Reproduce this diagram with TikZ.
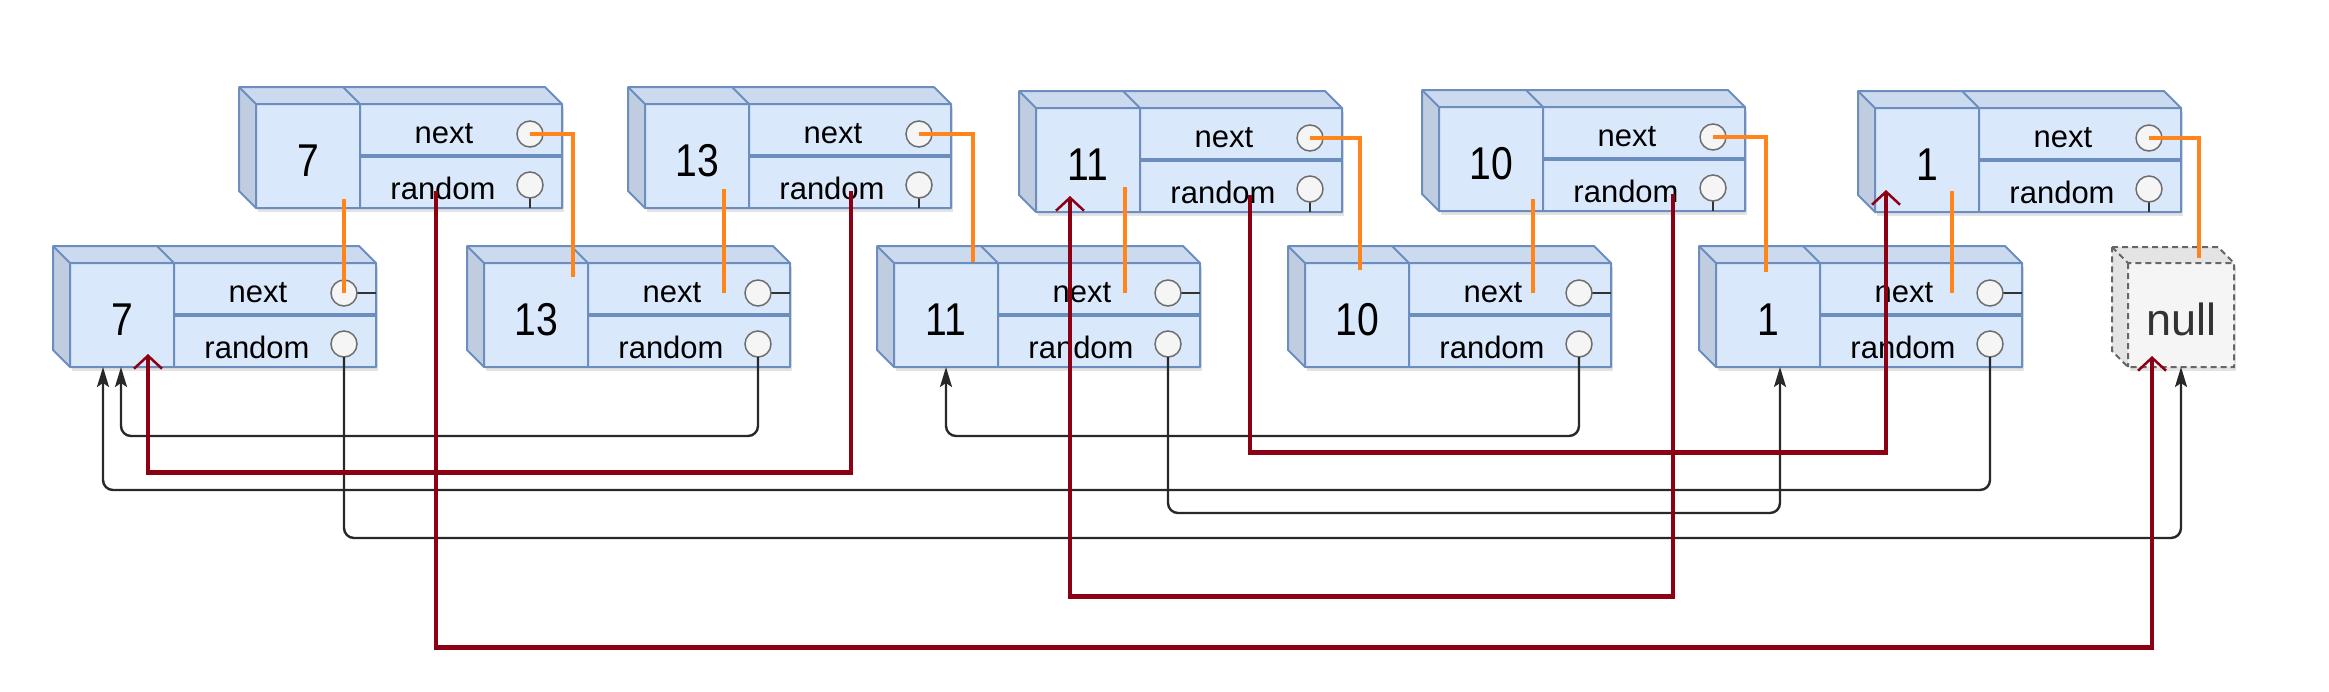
\documentclass[tikz,border=0pt]{standalone}
\usepackage{fontspec}
\setmainfont{Liberation Sans}
\newfontfamily\numfont[FakeStretch=0.85]{Liberation Sans}
\usepackage{xcolor}
\usepackage{tikz}
\usetikzlibrary{arrows.meta,shadows}

\begin{document}
\begin{tikzpicture}[x=1pt,y=-1pt,
  every node/.style={inner sep=0pt, outer sep=0pt},
  frontface/.style={fill={rgb,255:red,218;green,232;blue,252}, drop shadow={shadow xshift=2pt,shadow yshift=-4pt,opacity=0.22}},
  topface/.style={fill={rgb,255:red,203;green,218;blue,238}},
  sideface/.style={fill={rgb,255:red,192;green,205;blue,225}},
  celledge/.style={draw={rgb,255:red,108;green,142;blue,191}, line width=2pt, line join=round},
  port/.style={circle, minimum size=26pt, fill={rgb,255:red,245;green,245;blue,245}, draw={rgb,255:red,110;green,110;blue,110}, line width=1.5pt},
  stub/.style={draw={rgb,255:red,51;green,51;blue,51}, line width=2pt},
  val/.style={font=\numfont\fontsize{46}{46}\selectfont},
  lbl/.style={font=\fontsize{31}{31}\selectfont},
  nullfront/.style={fill={rgb,255:red,245;green,245;blue,245}, drop shadow={shadow xshift=2pt,shadow yshift=-4pt,opacity=0.22}},
  nullface/.style={fill={rgb,255:red,228;green,228;blue,228}},
  nulledge/.style={draw={rgb,255:red,102;green,102;blue,102}, line width=2pt, dash pattern=on 6pt off 4pt},
  nulllbl/.style={font=\fontsize{45}{45}\selectfont, text={rgb,255:red,51;green,51;blue,51}},
  nextlink/.style={draw={rgb,255:red,255;green,133;blue,27}, line width=4.5pt},
  randlink/.style={draw={rgb,255:red,140;green,0;blue,20}, line width=4.5pt, -{Straight Barb[length=13pt,width=28pt,line width=2.5pt]}},
  oldlink/.style={draw={rgb,255:red,40;green,40;blue,40}, line width=2.4pt, rounded corners=10pt, -{Stealth[length=20pt,width=12pt,inset=4pt]}},
  pics/listnode/.style={code={
    \fill[topface] (-17,-17) -- (289,-17) -- (306,0) -- (0,0) -- cycle;
    \fill[sideface] (-17,-17) -- (0,0) -- (0,104) -- (-17,87) -- cycle;
    \fill[frontface] (0,0) rectangle (306,104);
    \draw[celledge] (-17,-17) -- (289,-17) -- (306,0) -- (306,104) -- (0,104) -- (-17,87) -- cycle;
    \draw[celledge] (-17,-17) -- (0,0) -- (306,0) (0,0) -- (0,104);
    \draw[celledge] (87,-17) -- (104,0) -- (104,104);
    \draw[celledge, line width=3.5pt] (104,52) -- (306,52);
    \node[val] (-v) at (52,57) {#1};
    \node[lbl] (-nl) at (188,30) {next};
    \node[lbl] (-rl) at (187,84) {random};
    \draw[stub] (287,30) -- (306,30);
    \draw[stub] (274,94) -- (274,104);
    \node[port] (-nc) at (274,30) {};
    \node[port] (-rc) at (274,81) {};
    \coordinate (-b) at (52,104);
  }},
  pics/nullnode/.style={code={
    \fill[nullface] (-16,-16) -- (90,-16) -- (106,0) -- (0,0) -- cycle;
    \fill[nullface] (-16,-16) -- (0,0) -- (0,104) -- (-16,88) -- cycle;
    \fill[nullfront] (0,0) rectangle (106,104);
    \draw[nulledge] (-16,-16) -- (90,-16) -- (106,0) -- (106,104) -- (0,104) -- (-16,88) -- cycle;
    \draw[nulledge] (-16,-16) -- (0,0) -- (106,0) (0,0) -- (0,104);
    \node[nulllbl] (-v) at (53,56) {null};
    \coordinate (-b) at (53,104);
  }}]
\useasboundingbox (0,0) rectangle (2329,691);

\pic (t7) at (256,104) {listnode=7};
\pic (t13) at (645,104) {listnode=13};
\pic (t11) at (1036,108) {listnode=11};
\pic (t10) at (1439,107) {listnode=10};
\pic (t1) at (1875,108) {listnode=1};

\pic (b7) at (70,263) {listnode=7};
\pic (b13) at (484,263) {listnode=13};
\pic (b11) at (894,263) {listnode=11};
\pic (b10) at (1305,263) {listnode=10};
\pic (b1) at (1716,263) {listnode=1};
\pic (null) at (2128,263) {nullnode};

\coordinate (n1) at (573,277);
\coordinate (n2) at (344,199);
\coordinate (n3) at (973,262);
\coordinate (n4) at (724,189);
\coordinate (n5) at (1360,270);
\coordinate (n6) at (1125,187);
\coordinate (n7) at (1766,272);
\coordinate (n8) at (1533,199);
\coordinate (n9) at (2199,258);
\coordinate (n10) at (1952,191);

\draw[oldlink] (b13-rc.south) -- ++(0,79) -| ([xshift=-1pt]b7-b);
\draw[oldlink] (b1-rc.south) -- ++(0,133) -| ([xshift=-19pt]b7-b);
\draw[oldlink] (b7-rc.south) -- ++(0,181) -| (null-b);
\draw[oldlink] (b11-rc.south) -- ++(0,156) -| ([xshift=12pt]b1-b);
\draw[oldlink] (b10-rc.south) -- ++(0,79) -| (b11-b);

\draw[randlink] ([xshift=19pt,yshift=8pt]t13-rl.south) -- ++(0,281) -| ([xshift=26pt,yshift=13pt]b7-b);
\draw[randlink] ([xshift=-7pt,yshift=8pt]t7-rl.south) -- ++(0,456) -| ([xshift=-29pt,yshift=11pt]null-b);
\draw[randlink] ([xshift=47pt,yshift=8pt]t10-rl.south) -- ++(0,402) -| ([xshift=-18pt,yshift=16pt]t11-b);
\draw[randlink] ([xshift=27pt,yshift=8pt]t11-rl.south) -- ++(0,257) -| ([xshift=-41pt,yshift=22pt]t1-b);

\draw[nextlink] (t7-nc.center) -| (n1);
\draw[nextlink] (t13-nc.center) -| (n3);
\draw[nextlink] (t11-nc.center) -| (n5);
\draw[nextlink] (t10-nc.center) -| (n7);
\draw[nextlink] (t1-nc.center) -| (n9);
\draw[nextlink] (b7-nc.center) -- (n2);
\draw[nextlink] ([xshift=-34pt]b13-nc.center) -- (n4);
\draw[nextlink] ([xshift=-43pt]b11-nc.center) -- (n6);
\draw[nextlink] ([xshift=-46pt]b10-nc.center) -- (n8);
\draw[nextlink] ([xshift=-38pt]b1-nc.center) -- (n10);
\end{tikzpicture}
\end{document}
